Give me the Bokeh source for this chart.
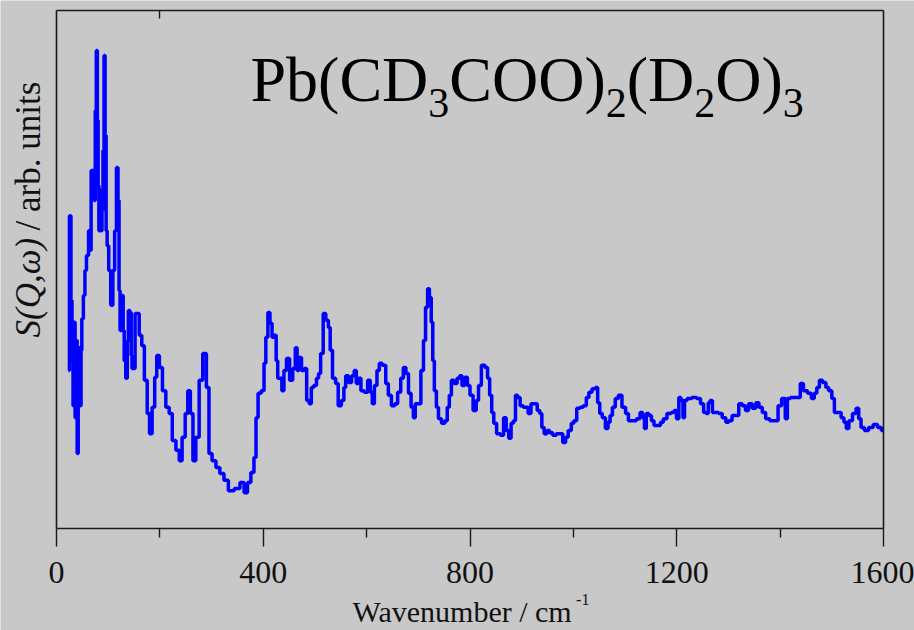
import math
from bokeh.plotting import figure
from bokeh.models import Range1d, FixedTicker, LinearAxis, Label
from bokeh.embed import file_html
from bokeh.resources import INLINE

# ---- data (wavenumber in cm^-1, intensity in arb. units) ----
wavenumber = [
    23, 27, 29, 31, 33, 35, 37, 39, 41, 43, 45, 47, 48, 50, 54, 56, 60, 64, 66, 68,
    72, 74, 76, 78, 80, 81, 83, 85, 87, 89, 91, 93, 95, 97, 99, 103, 107, 111, 114, 118,
    120, 122, 124, 128, 130, 132, 136, 138, 140, 144, 145, 147, 157, 163, 167, 173, 178, 182, 188, 192,
    196, 202, 208, 215, 221, 227, 235, 240, 246, 252, 256, 262, 266, 273, 279, 287, 293, 297, 305, 312,
    320, 328, 337, 351, 359, 367, 372, 380, 384, 388, 392, 400, 403, 407, 411, 415, 419, 423, 427, 429,
    434, 438, 442, 448, 454, 460, 464, 467, 471, 477, 481, 487, 491, 495, 500, 506, 508, 514, 518, 524,
    528, 531, 537, 543, 547, 555, 557, 562, 568, 574, 578, 582, 586, 592, 599, 605, 609, 613, 617, 623,
    626, 634, 640, 644, 652, 657, 663, 669, 673, 679, 683, 689, 692, 696, 702, 708, 712, 716, 720, 723,
    727, 729, 733, 737, 741, 749, 754, 758, 762, 766, 772, 778, 782, 787, 793, 797, 803, 809, 815, 818,
    826, 832, 836, 840, 844, 848, 855, 863, 867, 873, 877, 882, 886, 890, 894, 900, 906, 910, 915, 921,
    927, 933, 937, 941, 946, 952, 956, 964, 970, 976, 983, 987, 993, 999, 1003, 1010, 1016, 1022, 1028, 1032,
    1040, 1045, 1049, 1053, 1059, 1065, 1069, 1073, 1078, 1084, 1090, 1098, 1104, 1109, 1117, 1127, 1131, 1137, 1138, 1144,
    1148, 1154, 1158, 1166, 1171, 1177, 1185, 1193, 1197, 1202, 1206, 1210, 1214, 1216, 1224, 1234, 1243, 1249, 1255, 1259,
    1263, 1266, 1272, 1278, 1284, 1292, 1298, 1303, 1311, 1317, 1323, 1330, 1336, 1342, 1350, 1356, 1362, 1369, 1375, 1385,
    1394, 1398, 1408, 1412, 1416, 1424, 1437, 1441, 1449, 1457, 1464, 1468, 1474, 1478, 1486, 1491, 1497, 1503, 1507, 1515,
    1521, 1526, 1530, 1536, 1544, 1550, 1554, 1559, 1567, 1575, 1585, 1592, 1600,
]
intensity = [
    30.5, 60.4, 44.0, 32.4, 23.7, 39.8, 21.4, 36.3, 14.5, 26.6, 34.9, 23.7, 34.4, 40.5, 45.0, 49.8, 52.7, 57.5, 53.7, 69.1,
    69.1, 63.3, 80.7, 92.3, 78.8, 66.2, 57.5, 65.3, 57.5, 61.4, 73.0, 91.3, 75.9, 57.5, 54.6, 49.8, 43.1, 49.8, 57.5, 69.7,
    63.3, 45.9, 38.2, 45.0, 38.2, 32.4, 29.0, 36.3, 42.1, 41.7, 33.4, 30.9, 41.5, 37.3, 35.3, 28.6, 22.2, 18.3, 23.4, 29.2,
    33.4, 31.1, 26.6, 23.4, 22.2, 17.0, 15.1, 13.1, 17.6, 22.2, 26.6, 22.2, 13.1, 17.6, 28.6, 33.8, 27.2, 14.5, 13.1, 11.8,
    10.6, 9.3, 7.3, 7.7, 8.9, 6.9, 8.9, 10.8, 13.7, 21.4, 26.1, 26.6, 31.9, 36.9, 41.7, 39.6, 36.9, 37.3, 32.4, 29.0,
    29.0, 26.6, 30.5, 32.8, 28.6, 30.9, 34.9, 30.5, 33.0, 30.5, 30.9, 24.7, 24.1, 27.2, 27.6, 29.0, 29.9, 33.8, 41.5, 40.2,
    38.8, 34.4, 29.0, 28.0, 23.7, 24.7, 27.2, 29.5, 28.2, 29.5, 30.5, 28.0, 29.0, 26.6, 26.3, 28.6, 26.3, 24.1, 27.6, 30.5,
    31.9, 31.5, 28.0, 25.7, 23.7, 24.1, 26.3, 29.0, 31.1, 29.9, 26.1, 23.4, 21.4, 24.1, 24.1, 30.5, 36.3, 42.7, 46.3, 44.6,
    39.8, 32.4, 26.6, 23.4, 21.2, 20.3, 20.8, 23.4, 25.7, 28.6, 28.0, 29.0, 29.5, 27.6, 29.2, 27.6, 25.7, 22.8, 24.7, 27.6,
    31.5, 31.1, 29.0, 25.7, 22.4, 20.3, 18.3, 18.0, 21.4, 18.9, 17.4, 20.3, 20.8, 25.7, 25.3, 23.7, 23.4, 23.4, 22.2, 24.1,
    24.1, 22.8, 22.2, 19.5, 18.3, 18.9, 18.5, 18.0, 18.3, 18.3, 16.6, 17.6, 18.9, 20.3, 20.8, 23.2, 23.4, 23.7, 25.3, 26.3,
    27.0, 27.2, 24.3, 22.2, 21.4, 19.3, 20.5, 21.8, 23.4, 25.1, 25.7, 23.4, 22.2, 20.8, 20.8, 21.2, 22.4, 21.4, 19.3, 22.2,
    21.8, 20.8, 19.9, 19.9, 20.5, 21.2, 22.2, 22.4, 22.8, 21.2, 25.3, 24.7, 21.4, 24.7, 25.1, 25.3, 25.1, 24.1, 22.4, 22.2,
    24.3, 24.7, 22.4, 22.4, 22.2, 21.4, 20.5, 20.8, 21.8, 21.8, 24.1, 23.7, 22.8, 24.1, 23.2, 24.3, 23.4, 22.4, 21.2, 20.8,
    20.8, 23.7, 25.1, 21.2, 25.1, 25.3, 25.3, 28.0, 26.6, 26.1, 25.1, 26.1, 27.2, 28.6, 28.2, 27.2, 26.6, 25.1, 22.4, 22.4,
    21.4, 20.5, 19.3, 20.8, 22.2, 23.2, 21.2, 19.5, 18.9, 19.5, 20.1, 19.5, 18.9,
]
x_major_ticks = [0, 400, 800, 1200, 1600]
x_minor_ticks = [200, 600, 1000, 1400]
top_ticks = [200]
x_min, x_max = 0, 1600
y_min, y_max = 0, 100
x_label_main = "Wavenumber / cm"
x_label_sup = "-1"
y_label_italic = "S(Q,\u03c9)"
y_label_rest = "/ arb. units"
title_parts = [("Pb(CD", False), ("3", True), ("COO)", False), ("2", True),
               ("(D", False), ("2", True), ("O)", False), ("3", True)]

# ---- layout (pixels) ----
W, H = 914, 630
box_left, box_right, box_top, box_bottom = 56, 883, 10, 528
BG = "#c8c8c8"
INK = "#1a1a1a"
FONT = "Liberation Serif"
SHIFT = 0.35  # anchor correction (fraction of font size) so that y is the text baseline

px_x = (box_right - box_left) / (x_max - x_min)
px_y = (box_bottom - box_top) / (y_max - y_min)
xr = Range1d(x_min - box_left / px_x, x_max + (W - box_right) / px_x)
yr = Range1d(y_min - (H - box_bottom) / px_y, y_max + box_top / px_y)

p = figure(width=W, height=H, x_range=xr, y_range=yr, output_backend="svg",
           toolbar_location=None, x_axis_location=None, y_axis_location=None, min_border=0)
p.min_border_left = p.min_border_right = p.min_border_top = p.min_border_bottom = 0
p.background_fill_color = BG
p.border_fill_color = BG
p.outline_line_color = None
p.grid.visible = False

# bottom axis
xa = LinearAxis(fixed_location=y_min, bounds=(x_min, x_max),
                ticker=FixedTicker(ticks=x_major_ticks, minor_ticks=x_minor_ticks))
xa.major_tick_out = 18
xa.major_tick_in = 0
xa.minor_tick_out = 9
xa.minor_tick_in = 0
xa.axis_line_color = INK
xa.axis_line_width = 1.6
xa.major_tick_line_color = INK
xa.major_tick_line_width = 1.4
xa.minor_tick_line_color = INK
xa.minor_tick_line_width = 1.4
xa.major_label_text_font = FONT
xa.major_label_text_font_size = "32px"
xa.major_label_text_color = "#111111"
xa.major_label_standoff = 15
p.add_layout(xa, "below")

# top frame line with its single inward tick
ta = LinearAxis(fixed_location=y_max, bounds=(x_min, x_max), ticker=FixedTicker(ticks=top_ticks),
                major_tick_in=8, major_tick_out=0, major_label_text_color=None,
                axis_line_color=INK, axis_line_width=1.6, major_tick_line_color=INK,
                major_tick_line_width=1.4, minor_tick_line_color=None)
p.add_layout(ta, "above")

# left and right frame lines (no ticks)
for loc, side in ((x_min, "left"), (x_max, "right")):
    ax = LinearAxis(fixed_location=loc, bounds=(y_min, y_max), ticker=FixedTicker(ticks=[]),
                    major_label_text_color=None, axis_line_color=INK, axis_line_width=1.6,
                    major_tick_line_color=None, minor_tick_line_color=None)
    p.add_layout(ax, side)

p.step(wavenumber, intensity, mode="center", line_color="#0000ff", line_width=3.5)


def text_label(txt, x, y_canvas, size, style="normal", angle=0.0):
    """Label whose alphabetic baseline sits at canvas row y_canvas (or column x for rotated)."""
    if angle:
        xs, ys = x - SHIFT * size, H - y_canvas
    else:
        xs, ys = x, H - y_canvas + SHIFT * size
    return Label(x=xs, y=ys, x_units="screen", y_units="screen", text=txt, text_font=FONT,
                 text_font_size=f"{size}px", text_font_style=style, text_color="#111111",
                 angle=angle, text_align="left", text_baseline="alphabetic")


# x-axis label with superscript
xl_size = 30
xl_x = 352
p.add_layout(text_label(x_label_main, xl_x, 621, xl_size))
p.add_layout(text_label(x_label_sup, xl_x + 7.387 * xl_size + 2, 605, 16))

# y-axis label (rotated): italic part + regular part
yl_size = 35
yl_start = 337
p.add_layout(text_label(y_label_italic, 40, yl_start, yl_size, "italic", math.pi / 2))
p.add_layout(text_label(y_label_rest, 40, yl_start - (2.81 + 0.25) * yl_size, yl_size,
                        "normal", math.pi / 2))

# title inside the plot, with subscripts
ADV = {"P": 0.556, "b": 0.5, "(": 0.333, ")": 0.333, "C": 0.667, "D": 0.722,
       "O": 0.722, "2": 0.5, "3": 0.5}
main_size, sub_size = 64, 42
cx = 250
for txt, is_sub in title_parts:
    size = sub_size if is_sub else main_size
    lab = text_label(txt, cx, 117 if is_sub else 101, size)
    lab.text_color = "#000000"
    p.add_layout(lab)
    cx += sum(ADV[c] for c in txt) * size

open("out.html", "w").write(file_html(p, INLINE))
